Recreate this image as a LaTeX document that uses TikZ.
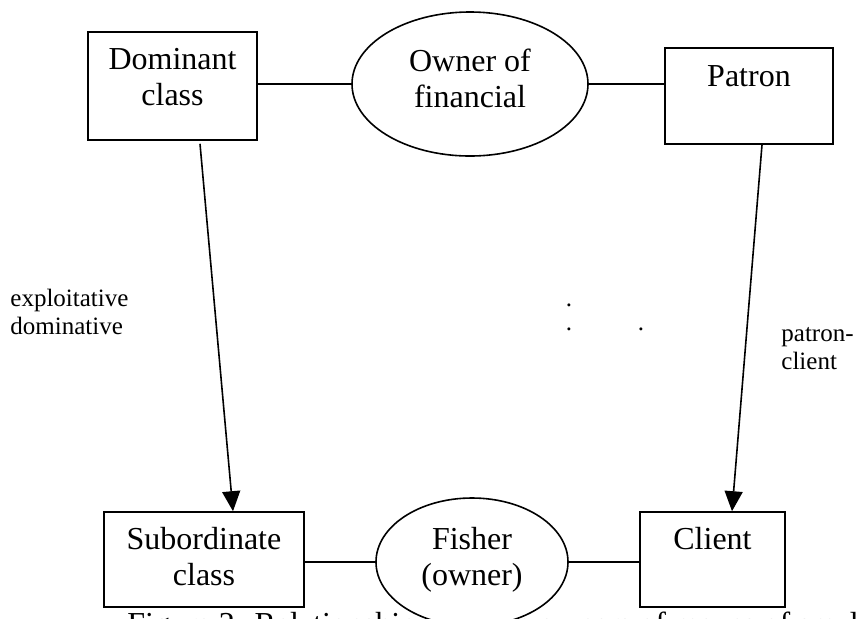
\documentclass[tikz,border=0pt]{standalone}
\usepackage{fontspec}
\setmainfont{Liberation Serif}
\usetikzlibrary{positioning,shapes.geometric,arrows.meta,calc}

\tikzset{
  box/.style={draw, line width=.8pt, inner sep=0pt},
  oval/.style={ellipse, draw, fill=white, line width=.8pt, inner sep=0pt},
  boxtext/.style={inner sep=0pt, align=center, font=\fontsize{16}{18}\selectfont},
  sidelabel/.style={inner sep=0pt, align=left, font=\fontsize{12.5}{14}\selectfont},
  link/.style={line width=.8pt},
  flow/.style={line width=.8pt, -{Triangle[length=10pt,width=9pt]}}
}

\begin{document}
\begin{tikzpicture}[x=0.5pt, y=-0.5pt]
  \useasboundingbox (0,0) rectangle (858,618);
  \clip (0,0) rectangle (858,618);

  % caption, cut off by the page edge
  \node[boxtext, anchor=base west] (caption) at (127,634) {Figure 2: Relationship between owners of means of small};

  % top row
  \node[box, minimum width=84.5pt, minimum height=54pt] (dom) at (172.5,86) {};
  \node[oval, minimum width=118pt, minimum height=72pt] (own) at (470,84) {};
  \node[box, minimum width=84pt, minimum height=48pt] (pat) at (749,96) {};
  \node[boxtext, below=8.5pt of dom.north] (domtext) {Dominant\\class};
  \node[boxtext, below=18.5pt of own.north] (owntext) {Owner of\\financial};
  \node[boxtext, below=9pt of pat.north] (pattext) {Patron};
  \draw[link] (dom.east |- own.west) -- (own.west);
  \draw[link] (own.east) -- (own.east -| pat.west);

  % bottom row
  \node[box, minimum width=100pt, minimum height=47.5pt] (sub) at (204,559.5) {};
  \node[oval, minimum width=96pt, minimum height=64pt] (fish) at (472,562) {};
  \node[box, minimum width=72.5pt, minimum height=47.5pt] (cli) at (712.5,559.5) {};
  \node[boxtext, below=8pt of sub.north] (subtext) {Subordinate\\class};
  \node[boxtext, below=15pt of fish.north] (fishtext) {Fisher\\(owner)};
  \node[boxtext, below=8pt of cli.north] (clitext) {Client};
  \draw[link] (sub.east |- fish.west) -- (fish.west);
  \draw[link] (fish.east) -- (fish.east -| cli.west);

  % vertical relations
  \draw[flow] ($(dom.south)+(27.5,3)$) -- ($(sub.north)+(29,0)$);
  \draw[flow] ($(pat.south)+(13,0)$) -- ($(cli.north)+(19.5,0)$);

  % side labels
  \node[sidelabel, anchor=north west] (explab) at (10,289) {exploitative\\dominative};
  \node[sidelabel, anchor=north west] (patlab) at (781,327) {patron-\\client};
  \node[sidelabel] (dota) at (569,305) {.};
  \node[sidelabel] (dotb) at (569,329) {.};
  \node[sidelabel] (dotc) at (641,329) {.};
\end{tikzpicture}
\end{document}
